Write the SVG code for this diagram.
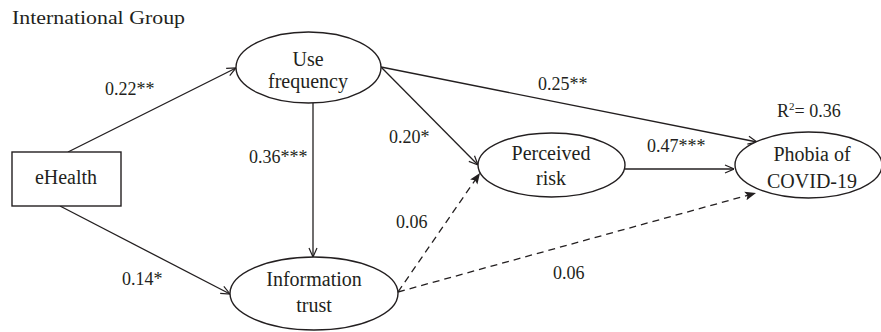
<svg xmlns="http://www.w3.org/2000/svg" width="881" height="332" viewBox="0 0 881 332" font-family="'Liberation Serif', 'DejaVu Serif', 'Times New Roman', Times, serif">
  <style>
    text { font-family: 'Liberation Serif', 'DejaVu Serif', 'Times New Roman', Times, serif; fill: #231f20; }
    .node { font-size: 20px; text-anchor: middle; }
    .lbl { font-size: 18px; }
    .shape { fill: #ffffff; stroke: #231f20; stroke-width: 1.4; }
    .edge { fill: none; stroke: #231f20; stroke-width: 1.3; }
    .dash { stroke-dasharray: 7 5; }
  </style>
  <defs>
    <marker id="open" viewBox="0 0 10 10" refX="10" refY="5" markerWidth="10" markerHeight="10" markerUnits="userSpaceOnUse" orient="auto">
      <path d="M1,1 L10,5 L1,9" fill="none" stroke="#231f20" stroke-width="1.2"/>
    </marker>
    <marker id="solid" viewBox="0 0 10 10" refX="10" refY="5" markerWidth="11" markerHeight="11" markerUnits="userSpaceOnUse" orient="auto">
      <path d="M0,1 L10,5 L0,9 L2,5 Z" fill="#231f20"/>
    </marker>
  </defs>

  <rect width="881" height="332" fill="#ffffff"/>

  <text x="12" y="24" font-size="18" textLength="173" lengthAdjust="spacingAndGlyphs">International Group</text>

  <!-- connectors -->
  <g id="connectors">
    <line class="edge" x1="68" y1="152" x2="236" y2="68" marker-end="url(#open)"/>
    <line class="edge" x1="60" y1="206" x2="230" y2="294" marker-end="url(#open)"/>
    <line class="edge" x1="313" y1="103" x2="313" y2="257" marker-end="url(#open)"/>
    <line class="edge" x1="381" y1="67" x2="757" y2="142" marker-end="url(#open)"/>
    <line class="edge" x1="381" y1="67" x2="478" y2="165" marker-end="url(#open)"/>
    <line class="edge" x1="625" y1="169" x2="734" y2="169" marker-end="url(#open)"/>
    <line class="edge dash" x1="398" y1="292" x2="480" y2="173" marker-end="url(#solid)"/>
    <line class="edge dash" x1="398" y1="292" x2="756" y2="193" marker-end="url(#solid)"/>
  </g>

  <!-- path coefficients -->
  <g id="labels">
    <text class="lbl" x="105" y="95">0.22**</text>
    <text class="lbl" x="249" y="163">0.36***</text>
    <text class="lbl" x="122" y="285">0.14*</text>
    <text class="lbl" x="396" y="228">0.06</text>
    <text class="lbl" x="389" y="143">0.20*</text>
    <text class="lbl" x="538" y="90">0.25**</text>
    <text class="lbl" x="647" y="152">0.47***</text>
    <text class="lbl" x="553" y="279">0.06</text>
    <text class="lbl" x="777" y="117">R<tspan font-size="11" dy="-7">2</tspan><tspan dy="7">= 0.36</tspan></text>
  </g>

  <g id="ehealth">
    <rect class="shape" x="12" y="152" width="109" height="54"/>
    <text class="node" x="66" y="184">eHealth</text>
  </g>

  <g id="use-frequency">
    <ellipse class="shape" cx="308.5" cy="67.5" rx="72.5" ry="35.5"/>
    <text class="node" x="308" y="66">Use</text>
    <text class="node" x="308" y="88">frequency</text>
  </g>

  <g id="information-trust">
    <ellipse class="shape" cx="314" cy="293.5" rx="84" ry="36.5"/>
    <text class="node" x="314" y="286">Information</text>
    <text class="node" x="314" y="312">trust</text>
  </g>

  <g id="perceived-risk">
    <ellipse class="shape" cx="551.5" cy="165" rx="73.5" ry="32"/>
    <text class="node" x="551" y="160">Perceived</text>
    <text class="node" x="551" y="185">risk</text>
  </g>

  <g id="phobia">
    <ellipse class="shape" cx="808.5" cy="165" rx="73.5" ry="33"/>
    <text class="node" x="812" y="161">Phobia of</text>
    <text class="node" x="812" y="188">COVID-19</text>
  </g>
</svg>
